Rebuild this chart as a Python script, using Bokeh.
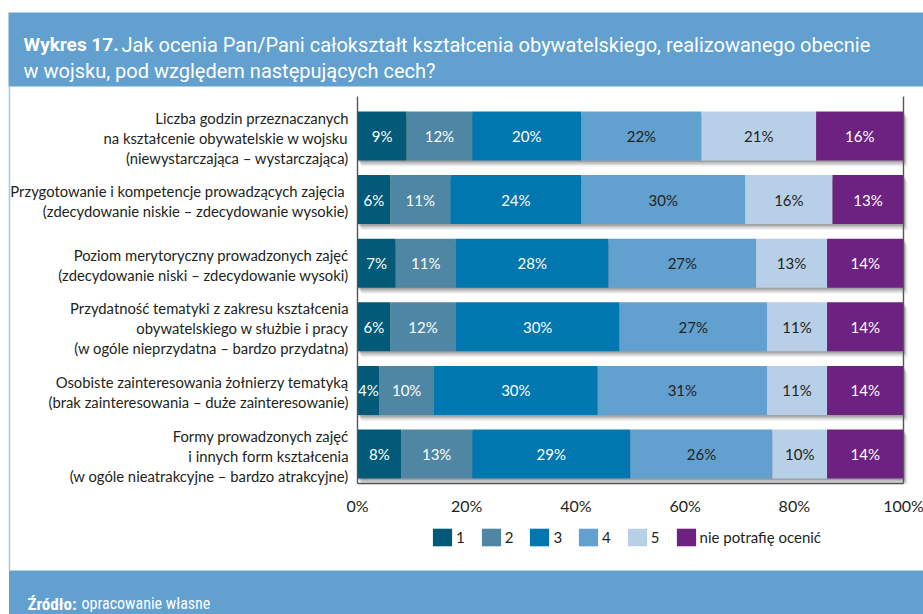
import numpy as np
from bokeh.plotting import figure
from bokeh.models import Range1d, Legend, LegendItem
from bokeh.core.properties import value
from bokeh.embed import file_html
from bokeh.resources import INLINE

# ---------------- data ----------------
categories = [
    "Liczba godzin przeznaczanych\nna kształcenie obywatelskie w wojsku\n(niewystarczająca – wystarczająca)",
    "Przygotowanie i kompetencje prowadzących  zajęcia\n(zdecydowanie niskie – zdecydowanie wysokie)",
    "Poziom merytoryczny prowadzonych zajęć\n(zdecydowanie niski – zdecydowanie wysoki)",
    "Przydatność tematyki z zakresu kształcenia\nobywatelskiego w służbie i pracy\n(w ogóle nieprzydatna – bardzo przydatna)",
    "Osobiste zainteresowania żołnierzy tematyką\n(brak zainteresowania – duże zainteresowanie)",
    "Formy prowadzonych zajęć\ni innych form kształcenia\n(w ogóle nieatrakcyjne – bardzo atrakcyjne)",
]
series_names = ["1", "2", "3", "4", "5", "nie potrafię ocenić"]
s1 = [9, 6, 7, 6, 4, 8]
s2 = [12, 11, 11, 12, 10, 13]
s3 = [20, 24, 28, 30, 30, 29]
s4 = [22, 30, 27, 27, 31, 26]
s5 = [21, 16, 13, 11, 11, 10]
s6 = [16, 13, 14, 14, 14, 14]
ticks = [0, 20, 40, 60, 80, 100]
tick_labels = ["0%", "20%", "40%", "60%", "80%", "100%"]
title_bold = "Wykres 17."
title_lines = ["Jak ocenia Pan/Pani całokształt kształcenia obywatelskiego, realizowanego obecnie",
               "w wojsku, pod względem następujących cech?"]
source_bold = "Źródło:"
source_text = "opracowanie własne"

series = [s1, s2, s3, s4, s5, s6]
colors = ["#005a78", "#4e86a3", "#0077ae", "#62a0d0", "#b8cfe8", "#6d2281"]
label_colors = ["white", "white", "white", "#231f20", "#231f20", "white"]

# ---------------- layout geometry (pixels) ----------------
W, H = 923, 614
X0, PX = 357.0, 5.46          # pixel x of 0 %, pixels per percent
Y0, PY = 135.5, 63.6          # pixel y of first row centre, pixels per row


def X(px):
    return (px - X0) / PX


def Y(py):
    return (py - Y0) / PY


LAB = "Lato"
HEAD = "Roboto"
TXT = "#231f20"
BAND = "#62a0d0"

p = figure(width=W, height=H, output_backend="svg", toolbar_location=None,
           x_range=Range1d(X(0), X(W)), y_range=Range1d(Y(H), Y(0)),
           min_border=0, x_axis_type=None, y_axis_type=None,
           outline_line_color=None)
p.grid.visible = False

# header / footer bands and frame line
p.quad(left=[X(8)], right=[X(W)], top=[Y(12)], bottom=[Y(86)], color=BAND, line_color=None)
p.quad(left=[X(8.5)], right=[X(W)], top=[Y(570)], bottom=[Y(H)], color=BAND, line_color=None)
p.segment(x0=[X(9)], y0=[Y(86)], x1=[X(9)], y1=[Y(570)], line_color="#a3c7e8", line_width=1.5)

# header text
p.text(x=[X(23)], y=[Y(44)], text=[title_bold], text_font=value(HEAD), text_font_style="bold",
       text_font_size="19px", text_color="white", text_baseline="alphabetic")
p.text(x=[X(121), X(23)], y=[Y(44), Y(70)], text=title_lines, text_font=value(HEAD),
       text_font_size="20px", text_color="white", text_baseline="alphabetic")
# footer text
p.text(x=[X(27)], y=[Y(603)], text=[source_bold], text_font=value("Roboto Condensed"), text_font_style="bold",
       text_font_size="17px", text_color="white", text_baseline="alphabetic")
p.text(x=[X(81)], y=[Y(603)], text=[source_text], text_font=value("Roboto Condensed"),
       text_font_size="16px", text_color="white", text_baseline="alphabetic")

rows = np.arange(len(categories))
bar_h = 49 / PY

# bar shadows
for (dx, dy, a) in [(1, 1.5, 0.22), (2, 3, 0.18), (3, 4.5, 0.14), (4, 6, 0.08)]:
    p.hbar(y=rows + dy / PY, left=dx / PX, right=100 + dx / PX, height=bar_h,
           fill_color="#444444", fill_alpha=a, line_color=None)

# stacked bars
vals = np.array(series, dtype=float)
cum = np.vstack([np.zeros(len(rows)), np.cumsum(vals, axis=0)])
renderers = []
for j, name in enumerate(series_names):
    r = p.hbar(y=rows, left=cum[j], right=cum[j + 1], height=bar_h,
               fill_color=colors[j], line_color=None)
    renderers.append(r)
    p.text(x=(cum[j] + cum[j + 1]) / 2, y=rows,
           text=[f"{v:.0f}%" for v in vals[j]], text_font=value(LAB), text_font_size="15px",
           text_color=label_colors[j], text_align="center", text_baseline="middle")

# axis frame
p.segment(x0=[0, 100, 0], y0=[Y(96), Y(96), Y(483)], x1=[0, 100, 100], y1=[Y(483), Y(483), Y(483)],
          line_color="#555555", line_width=1.4)
# tick labels
p.text(x=ticks, y=[Y(505)] * len(ticks), text=tick_labels, text_font=value(LAB), text_font_size="16px",
       text_color=TXT, text_align="center", text_baseline="middle")

# category labels (right aligned, multi-line)
lx, ly, lt = [], [], []
for i, c in enumerate(categories):
    lines = c.split("\n")
    n = len(lines)
    for k, line in enumerate(lines):
        lx.append(X(348))
        ly.append(i + (1.5 + (k - (n - 1) / 2) * 20) / PY)
        lt.append(line)
p.text(x=lx, y=ly, text=lt, text_font=value(LAB), text_font_size="14.8px", text_color=TXT,
       text_align="right", text_baseline="middle")

# legend
legend = Legend(items=[LegendItem(label=n, renderers=[r]) for n, r in zip(series_names, renderers)],
                orientation="horizontal", location=(430, H - 548),
                glyph_width=24, glyph_height=22, label_height=22, label_width=1, label_standoff=2,
                spacing=14, padding=0, margin=0, border_line_alpha=0, background_fill_alpha=0,
                label_text_font=LAB, label_text_font_size="15px", label_text_color=TXT)
p.add_layout(legend)

open("out.html", "w").write(file_html(p, INLINE))
